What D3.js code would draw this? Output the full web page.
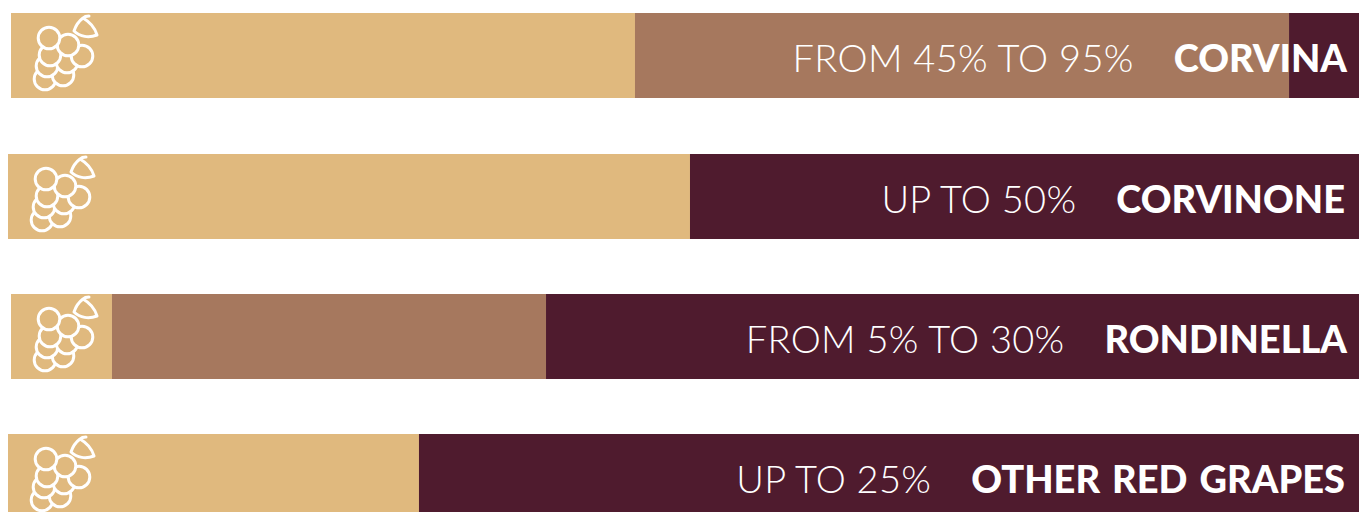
<!DOCTYPE html>
<html>
<head>
<meta charset="utf-8">
<script src="https://cdn.jsdelivr.net/npm/d3@7"></script>
<style>
html, body { margin: 0; padding: 0; background: #fff; overflow: hidden; }
svg { display: block; }
text { font-family: Lato, "Open Sans", sans-serif; fill: #fff; font-size: 38px; }
</style>
</head>
<body>
<div id="chart"></div>
<script>
// Data
const grapes = ["CORVINA", "CORVINONE", "RONDINELLA", "OTHER RED GRAPES"];
const ranges = ["FROM 45% TO 95%", "UP TO 50%", "FROM 5% TO 30%", "UP TO 25%"];
// where each band ends along the bar, in percent
const tanEnd = [46.29, 50.48, 7.49, 30.42];
const brownEnd = [94.81, 50.48, 39.69, 30.42];

// Layout
const width = 1359;
const height = 512;
const barLeft = [11, 8, 11, 8];
const barTop = [13, 154, 294, 434];
const barHeight = 85;
const colors = { tan: "#e0b97e", brown: "#a6785e", dark: "#4f1b2e" };

const svg = d3.select("#chart")
    .append("svg")
    .attr("width", width)
    .attr("height", height);

const y = d3.scaleOrdinal().domain(grapes).range(barTop);

const rows = svg.selectAll(".row")
    .data(grapes)
    .enter()
    .append("g")
    .attr("class", "row")
    .attr("transform", d => `translate(0,${y(d)})`);

rows.each(function(name, i) {
    const row = d3.select(this);
    const x = d3.scaleLinear().domain([0, 100]).range([barLeft[i], width]);
    const bands = [
        { from: 0, to: tanEnd[i], color: colors.tan },
        { from: tanEnd[i], to: brownEnd[i], color: colors.brown },
        { from: brownEnd[i], to: 100, color: colors.dark }
    ];

    row.selectAll("rect")
        .data(bands)
        .enter()
        .append("rect")
        .attr("x", d => x(d.from))
        .attr("y", 0)
        .attr("width", d => x(d.to) - x(d.from))
        .attr("height", barHeight)
        .attr("fill", d => d.color);

    drawGrape(row.append("g").attr("transform", `translate(${barLeft[i]},0)`));

    // Name sits at the right edge, range text 40px before it
    const label = row.append("text")
        .attr("x", width - 12 + (i % 2 ? -2 : 0))
        .attr("y", 58.5)
        .attr("text-anchor", "end")
        .style("font-weight", 900)
        .style("word-spacing", "3px")
        .text(name);

    const nameStart = label.node().getBBox().x;

    row.append("text")
        .attr("x", nameStart - 40)
        .attr("y", 58.5)
        .attr("text-anchor", "end")
        .style("font-weight", 300)
        .style("letter-spacing", "0.3px")
        .text(ranges[i]);
});

// Grape bunch icon, back circles first so the front ones cover them
function drawGrape(g) {
    const berries = [
        [34, 66], [52, 62], [36, 53], [56, 49], [39, 42],
        [71, 43], [57, 32], [38, 25]
    ];
    g.selectAll("circle")
        .data(berries)
        .enter()
        .append("circle")
        .attr("cx", d => d[0])
        .attr("cy", d => d[1])
        .attr("r", 10.8)
        .attr("fill", colors.tan)
        .attr("stroke", "#fff")
        .attr("stroke-width", 3);

    g.append("path")
        .attr("d", "M86 22C78 25 69 24 63 18C65 12 68 8 72 5C79 9 84 15 86 22M72 5C74 3 76 3 78 3")
        .attr("fill", "none")
        .attr("stroke", "#fff")
        .attr("stroke-width", 3)
        .attr("stroke-linecap", "round")
        .attr("stroke-linejoin", "round");
}
</script>
</body>
</html>
